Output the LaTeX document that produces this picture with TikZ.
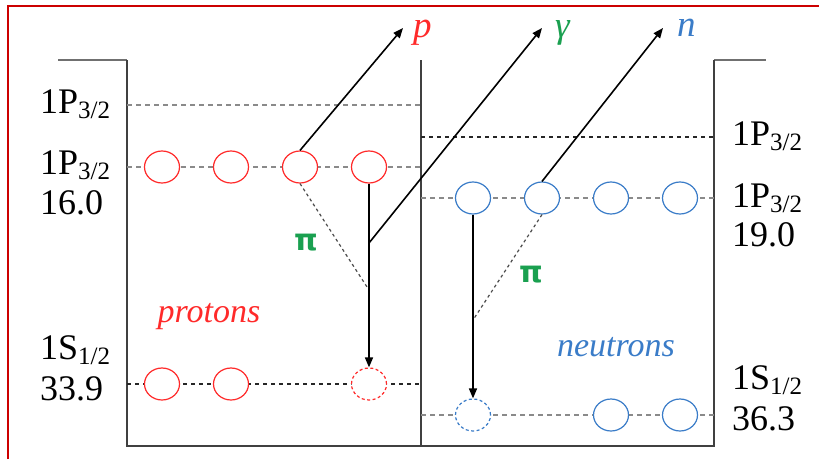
\documentclass[tikz,border=0pt]{standalone}
\usepackage{fontspec}
\setmainfont{Liberation Serif}
\newfontfamily\pifont{DejaVu Sans}
\usetikzlibrary{arrows.meta,shapes.geometric}
\definecolor{pred}{HTML}{FF2A2A}
\definecolor{nblue}{HTML}{3A7CC8}
\definecolor{pigreen}{HTML}{1AA050}
\definecolor{framered}{HTML}{CC0000}
\definecolor{wellgray}{HTML}{404040}
\definecolor{stubgray}{HTML}{707070}
\definecolor{lvlgray}{HTML}{8A8A8A}
\newcommand{\lvlname}[2]{#1\raisebox{-5pt}{\fontsize{25}{25}\selectfont #2}}
\begin{document}
\begin{tikzpicture}[x=1pt,y=-1pt,
  orb/.style={ellipse, line width=1.2pt, fill=white, minimum width=35pt, minimum height=32pt, inner sep=0pt},
  porb/.style={orb, draw=pred},
  norb/.style={orb, draw=nblue},
  holed/.style={dash pattern=on 3pt off 2.5pt},
  lab/.style={anchor=base west, font=\fontsize{36}{36}\selectfont, inner sep=0pt, text=black},
  glvl/.style={draw=lvlgray, line width=1.3pt, dash pattern=on 5pt off 4pt},
  blvl/.style={draw=black!85, line width=1.1pt, dash pattern=on 4pt off 4pt},
  well/.style={draw=wellgray, line width=1.8pt},
  stub/.style={draw=stubgray, line width=1.8pt},
  ray/.style={draw=black, line width=1.6pt, -{Triangle[length=10pt,width=8pt]}},
  pion/.style={draw=black!70, line width=1.2pt, dash pattern=on 3pt off 3pt},
  part/.style={font=\fontsize{37}{37}\selectfont\itshape, inner sep=0pt, anchor=base west},
  nucl/.style={font=\fontsize{34}{34}\selectfont\itshape, inner sep=0pt},
  pilab/.style={text=pigreen, font=\pifont\bfseries\fontsize{30}{30}\selectfont, inner sep=0pt}
]
\useasboundingbox (0,0) rectangle (819,459);
% frame
\coordinate (f0) at (8,459);
\coordinate (f1) at (8,6);
\coordinate (f2) at (819,6);
\draw[framered, line width=1.5pt] (f0) -- (f1) -- (f2);
% wells
\coordinate (wl0) at (58,60);
\coordinate (wl1) at (127,60);
\coordinate (wl2) at (127,446);
\coordinate (wr2) at (714,446);
\coordinate (wr1) at (714,60);
\coordinate (wr0) at (766,60);
\coordinate (wm0) at (421,60);
\coordinate (wm1) at (421,446);
\draw[stub] (wl0) -- (wl1);
\draw[stub] (wr1) -- (wr0);
\draw[well] (wl1) -- (wl2) -- (wr2) -- (wr1);
\draw[well] (wm0) -- (wm1);
% level lines
\coordinate (pa0) at (127,105); \coordinate (pa1) at (421,105);
\coordinate (pb0) at (127,167); \coordinate (pb1) at (421,167);
\coordinate (pc0) at (127,384); \coordinate (pc1) at (421,384);
\coordinate (na0) at (421,137); \coordinate (na1) at (714,137);
\coordinate (nb0) at (421,198); \coordinate (nb1) at (714,198);
\coordinate (nc0) at (421,415); \coordinate (nc1) at (714,415);
\draw[glvl] (pa0) -- (pa1);
\draw[glvl] (pb0) -- (pb1);
\draw[blvl] (pc0) -- (pc1);
\draw[blvl] (na0) -- (na1);
\draw[glvl] (nb0) -- (nb1);
\draw[glvl] (nc0) -- (nc1);
% proton orbitals
\node[porb] (p1) at (162,167) {};
\node[porb] (p2) at (231,167) {};
\node[porb] (p3) at (300,167) {};
\node[porb] (p4) at (369,167) {};
\node[porb] (s1) at (162,384) {};
\node[porb] (s2) at (231,384) {};
\node[porb, holed] (sh) at (369,384) {};
% neutron orbitals
\node[norb] (n1) at (473,198) {};
\node[norb] (n2) at (542,198) {};
\node[norb] (n3) at (611,198) {};
\node[norb] (n4) at (680,198) {};
\node[norb, holed] (th) at (473,415) {};
\node[norb] (t3) at (611,415) {};
\node[norb] (t4) at (680,415) {};
% junctions and arrow tips
\coordinate (gs) at (369,243);
\coordinate (pj) at (369,290);
\coordinate (nj) at (473,320);
\coordinate (tipP) at (403,28);
\coordinate (tipG) at (542,28);
\coordinate (tipN) at (663,28);
% pion lines
\draw[pion] (p3.south) -- (pj);
\draw[pion] (n2.south) -- (nj);
% transitions
\draw[ray] (p4.south) -- (sh.north);
\draw[ray] (n1.south) -- (th.north);
\draw[ray] (p3.north) -- (tipP);
\draw[ray] (gs) -- (tipG);
\draw[ray] (n2.north) -- (tipN);
% particle labels
\node[part, text=pred] (lp) at (413,37) {p};
\node[part, text=pigreen] (lg) at (555,37) {γ};
\node[part, text=nblue] (ln) at (677,36) {n};
\node[pilab] (pi1) at (306,243) {π};
\node[pilab] (pi2) at (531,275) {π};
\node[nucl, text=pred] (protons) at (209,317) {protons};
\node[nucl, text=nblue] (neutrons) at (616,347) {neutrons};
% level labels
\node[lab] (L1) at (40,113) {\lvlname{1P}{3/2}};
\node[lab] (L2) at (40,174) {\lvlname{1P}{3/2}};
\node[lab] (L2e) at (40,214) {16.0};
\node[lab] (L3) at (40,359) {\lvlname{1S}{1/2}};
\node[lab] (L3e) at (40,400) {33.9};
\node[lab] (R1) at (732,145) {\lvlname{1P}{3/2}};
\node[lab] (R2) at (732,207) {\lvlname{1P}{3/2}};
\node[lab] (R2e) at (732,246) {19.0};
\node[lab] (R3) at (732,389) {\lvlname{1S}{1/2}};
\node[lab] (R3e) at (732,430) {36.3};
\end{tikzpicture}
\end{document}
